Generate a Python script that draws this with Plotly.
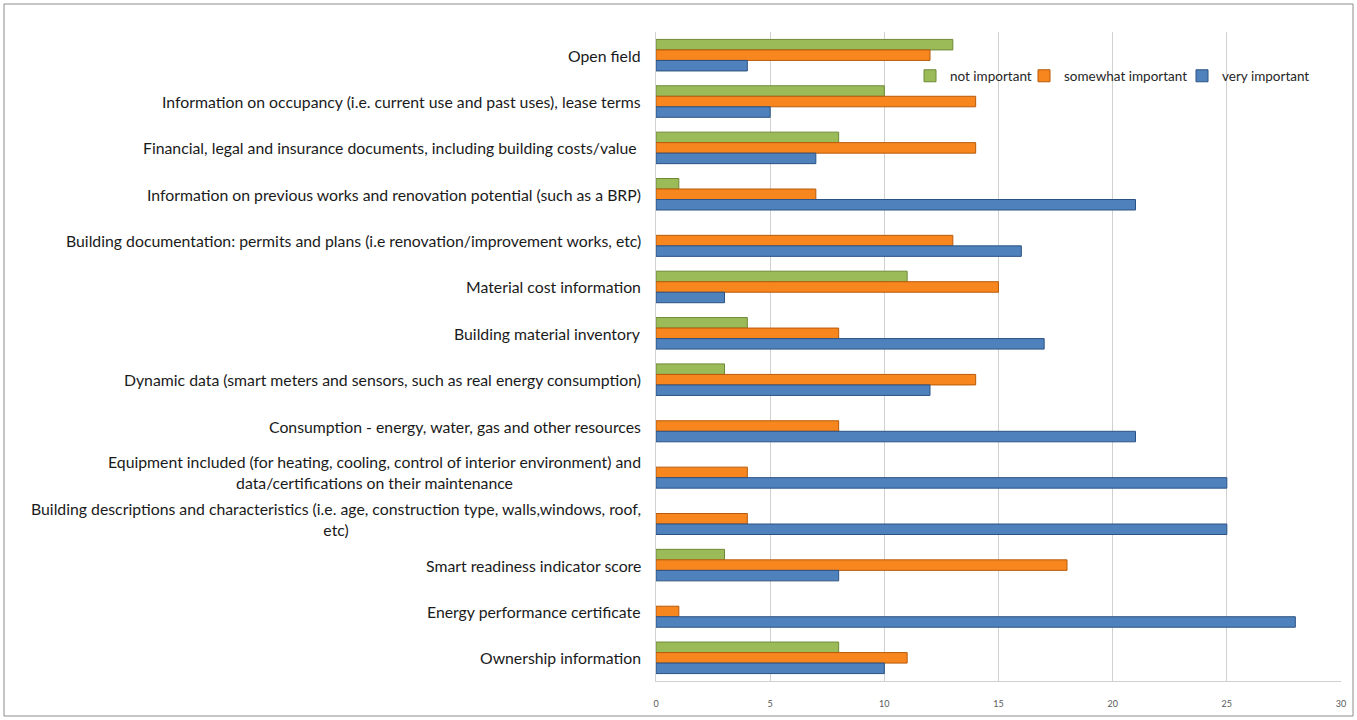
import plotly.graph_objects as go

categories = [
    "Open field",
    "Information on occupancy (i.e. current use and past uses), lease terms",
    "Financial, legal and insurance documents, including building costs/value ",
    "Information on previous works and renovation potential (such as a BRP)",
    "Building documentation: permits and plans (i.e renovation/improvement works, etc)",
    "Material cost information",
    "Building material inventory",
    "Dynamic data (smart meters and sensors, such as real energy consumption)",
    "Consumption - energy, water, gas and other resources",
    "Equipment included (for heating, cooling, control of interior environment) and<br>data/certifications on their maintenance",
    "Building descriptions and characteristics (i.e. age, construction type, walls,windows, roof,<br>etc)",
    "Smart readiness indicator score",
    "Energy performance certificate",
    "Ownership information",
]
not_important = [13, 10, 8, 1, 0, 11, 4, 3, 0, 0, 0, 3, 0, 8]
somewhat_important = [12, 14, 14, 7, 13, 15, 8, 14, 8, 4, 4, 18, 1, 11]
very_important = [4, 5, 7, 21, 16, 3, 17, 12, 21, 25, 25, 8, 28, 10]
x_ticks = [0, 5, 10, 15, 20, 25, 30]

series = [
    ("not important", not_important, "#9BBB59", "#6E8A36", "legend", 910),
    ("somewhat important", somewhat_important, "#F7861F", "#B85A0A", "legend2", 1024),
    ("very important", very_important, "#4F81BD", "#2C5283", "legend3", 1182),
]

W, H = 1357, 720
L, R, T, B = 656, 16, 32, 39
pw, ph = W - L - R, H - T - B

fig = go.Figure()
legends = {}
for name, vals, col, dark, leg, lx in series:
    fig.add_trace(go.Bar(
        y=categories, x=vals, name=name, orientation="h", legend=leg,
        marker=dict(color=col,
                    line=dict(color=dark, width=[1 if v > 0 else 0 for v in vals])),
    ))
    legends[leg] = dict(orientation="h", x=(lx - L) / pw, y=(H - B - 76) / ph,
                        xanchor="left", yanchor="middle",
                        font=dict(size=13.5, color="#262626"),
                        bgcolor="rgba(0,0,0,0)", itemwidth=30)

fig.update_layout(
    width=W, height=H,
    margin=dict(l=L, r=R, t=T, b=B),
    barmode="group", bargap=0.32, bargroupgap=0,
    plot_bgcolor="white", paper_bgcolor="white",
    font=dict(family="Lato, Open Sans, sans-serif", color="#1a1a1a"),
    showlegend=True,
    xaxis=dict(range=[0, 30], tickvals=x_ticks, showgrid=True,
               gridcolor="#D0D0D0", gridwidth=1, zeroline=False,
               showline=True, linecolor="#D0D0D0",
               tickfont=dict(size=9, color="#595959"), ticks="", ticklen=0,
               ticklabelstandoff=14),
    yaxis=dict(autorange="reversed", showticklabels=False, showgrid=False,
               showline=True, linecolor="#D0D0D0", ticks=""),
    **legends,
)

for c in categories:
    fig.add_annotation(x=0, xref="paper", y=c, yref="y", text=c,
                       xanchor="right", yanchor="middle", align="center",
                       xshift=-13, showarrow=False,
                       font=dict(size=15.8, color="#1a1a1a"))

fig.add_shape(type="rect", xref="paper", yref="paper",
              x0=(4 - L) / pw, x1=(1353 - L) / pw,
              y0=(H - B - 716) / ph, y1=(H - B - 4) / ph,
              line=dict(color="#8C8C8C", width=1))

fig.write_html("out.html")
